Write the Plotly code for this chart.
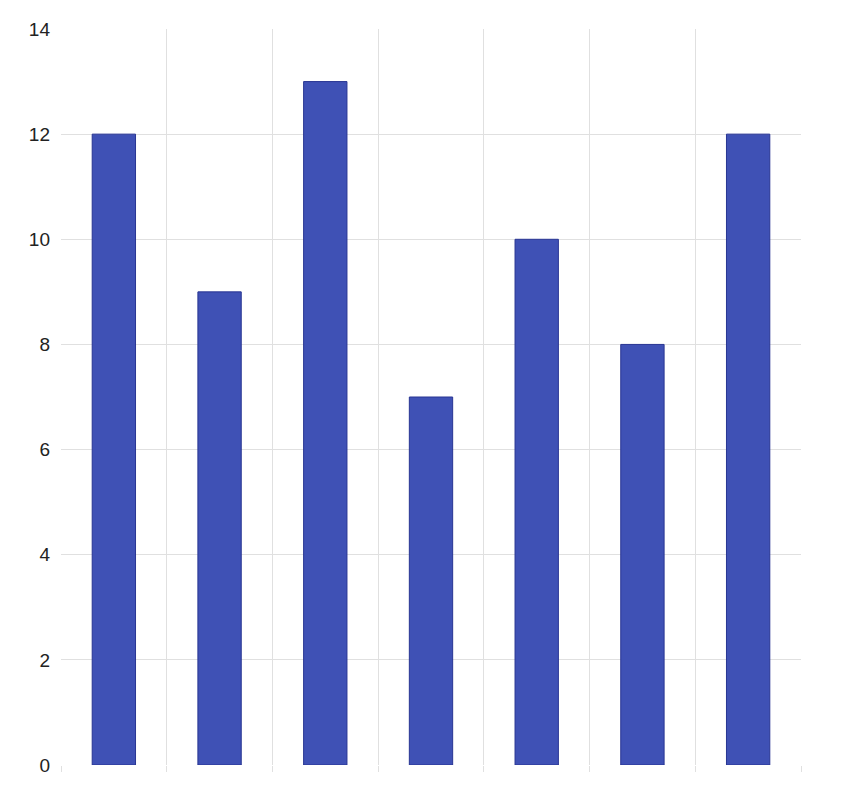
import plotly.graph_objects as go

categories = [0.5, 1.5, 2.5, 3.5, 4.5, 5.5, 6.5]
values = [12, 9, 13, 7, 10, 8, 12]
y_ticks = [0, 2, 4, 6, 8, 10, 12, 14]

fig = go.Figure(go.Bar(
    x=categories, y=values, width=0.41,
    marker=dict(color="#3f51b5", line=dict(color="#283593", width=1)),
))
fig.update_layout(
    width=826, height=779, margin=dict(l=53, r=33, t=11, b=19),
    plot_bgcolor="white", paper_bgcolor="white", showlegend=False,
    font=dict(family="Liberation Sans, Arial, sans-serif", size=19, color="#222"),
)
fig.update_xaxes(range=[0, 7], tickvals=list(range(8)), showticklabels=False,
                 showgrid=True, gridcolor="#e0e0e0", ticks="outside", ticklen=6,
                 tickcolor="#e0e0e0", zeroline=False, showline=False)
fig.update_yaxes(range=[0, 14], tickvals=y_ticks, showgrid=True, gridcolor="#e0e0e0",
                 zeroline=False, ticks="", ticklabelstandoff=10)
fig.write_html("out.html")
